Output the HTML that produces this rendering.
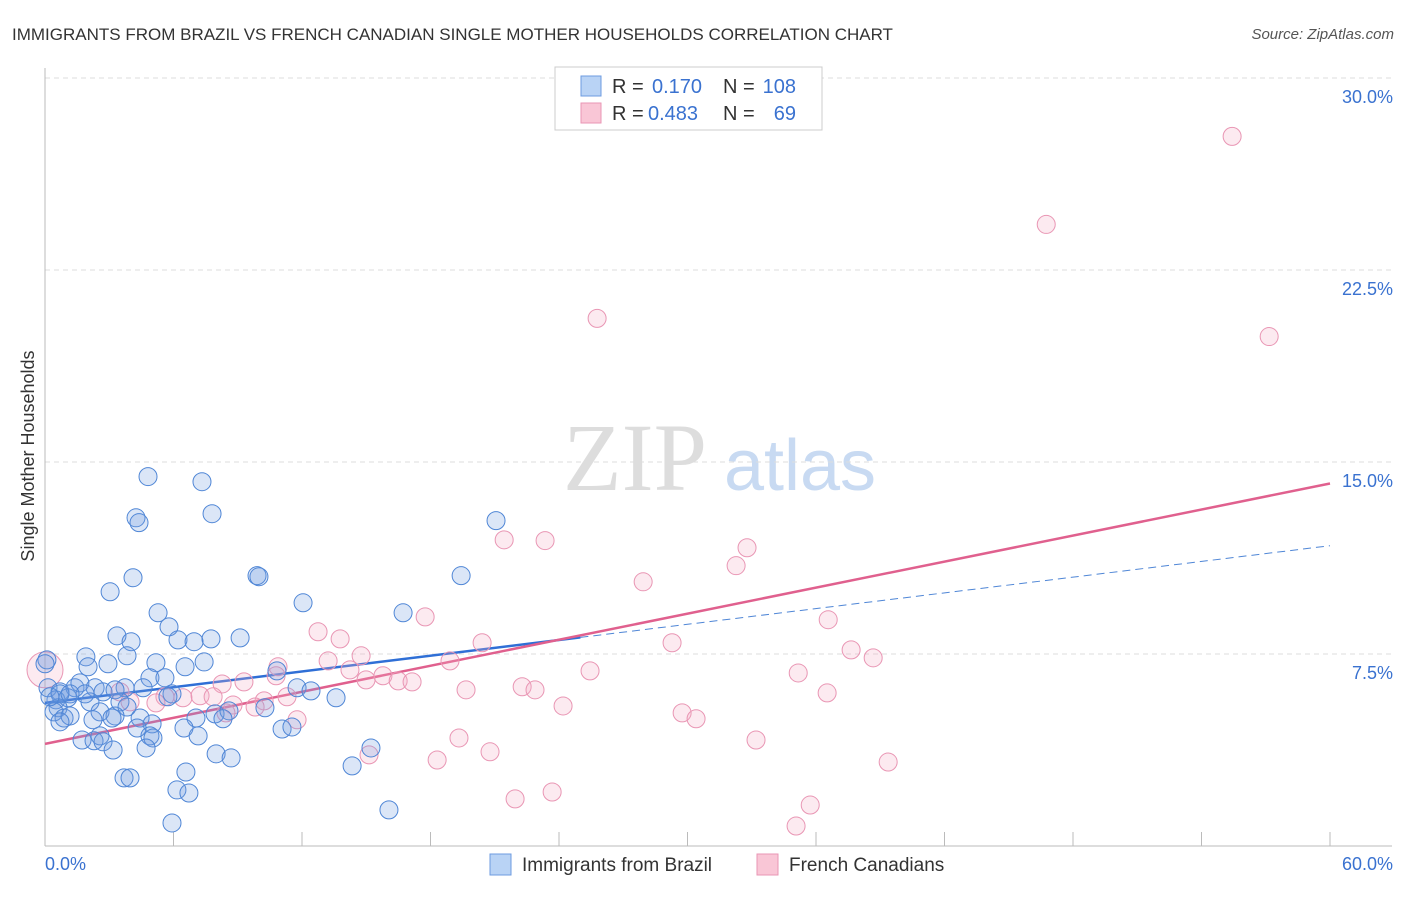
<!DOCTYPE html>
<html><head><meta charset="utf-8">
<style>
body{margin:0;background:#fff;font-family:"Liberation Sans",sans-serif;}
svg text{font-family:"Liberation Sans",sans-serif;}
</style></head>
<body>
<svg id="chart" width="1406" height="892">
<text x="12" y="40" font-size="17" fill="#333">IMMIGRANTS FROM BRAZIL VS FRENCH CANADIAN SINGLE MOTHER HOUSEHOLDS CORRELATION CHART</text>
<text x="1394" y="39" font-size="15" fill="#555" text-anchor="end" font-style="italic">Source: ZipAtlas.com</text>
<text x="635" y="490" font-size="96" fill="#ddd" text-anchor="middle" style="font-family:'Liberation Serif',serif">ZIP</text>
<text x="800" y="490" font-size="72" fill="#c8daf2" text-anchor="middle">atlas</text>
<text transform="translate(34,456) rotate(-90)" font-size="18" fill="#333" text-anchor="middle">Single Mother Households</text>
<g id="grid"></g><g id="axes"></g><g id="trend"></g><g id="pts"></g>
<g>
<rect x="555" y="67" width="267" height="63" fill="#fff" stroke="#ccc"/>
<rect x="581" y="76" width="20" height="20" fill="#b9d3f5" stroke="#6d9be0"/>
<rect x="581" y="103" width="20" height="20" fill="#f9c6d6" stroke="#e996b4"/>
<text x="612" y="93" font-size="20" fill="#333">R =</text>
<text x="652" y="93" font-size="20" fill="#3a72d0">0.170</text>
<text x="723" y="93" font-size="20" fill="#333">N =</text>
<text x="796" y="93" font-size="20" fill="#3a72d0" text-anchor="end">108</text>
<text x="612" y="120" font-size="20" fill="#333">R =</text>
<text x="648" y="120" font-size="20" fill="#3a72d0">0.483</text>
<text x="723" y="120" font-size="20" fill="#333">N =</text>
<text x="796" y="120" font-size="20" fill="#3a72d0" text-anchor="end">69</text>
</g>
<g>
<rect x="490" y="854" width="21" height="21" fill="#b9d3f5" stroke="#6d9be0"/>
<text x="522" y="871" font-size="19" fill="#333">Immigrants from Brazil</text>
<rect x="757" y="854" width="21" height="21" fill="#f9c6d6" stroke="#e996b4"/>
<text x="789" y="871" font-size="19" fill="#333">French Canadians</text>
</g>
</svg>
<script>
const blueX=[4.81,7.33,4.25,4.39,7.80,4.11,3.04,9.90,9.99,19.43,21.06,16.72,12.05,5.28,5.79,3.36,4.02,6.21,6.96,7.75,9.11,1.91,3.83,5.18,7.43,6.54,2.01,2.94,0.09,0,4.90,5.60,10.83,11.77,12.42,13.59,0.14,0.70,1.40,1.63,2.34,2.71,3.74,4.58,5.93,5.74,0.51,1.07,2.10,3.50,0.61,0.42,3.83,7.94,8.59,10.27,2.57,3.27,4.44,0.89,1.17,2.24,3.13,7.05,8.31,0.70,5.00,4.30,6.49,11.07,11.53,2.57,1.73,2.29,2.71,4.90,5.04,7.15,3.18,4.72,7.99,8.69,15.22,3.69,3.97,6.58,14.34,6.16,6.72,16.06,5.93,0.70,1.87,1.17,3.27,0.23];
const blueY=[14.43,14.23,12.82,12.63,12.98,10.48,9.93,10.56,10.52,10.56,12.71,9.11,9.50,9.11,8.56,8.21,7.98,8.05,7.98,8.09,8.13,7.39,7.43,7.16,7.19,7.00,7.00,7.12,7.27,7.12,6.57,6.57,6.84,6.18,6.06,5.79,6.18,6.02,6.18,6.37,6.18,6.02,6.18,6.18,5.94,5.83,5.71,5.79,5.63,5.63,5.40,5.24,5.43,5.16,5.28,5.40,5.24,5.08,5.00,5.00,5.08,4.93,5.00,5.00,4.97,4.85,4.77,4.61,4.61,4.57,4.65,4.30,4.14,4.11,4.07,4.30,4.22,4.30,3.75,3.83,3.60,3.44,3.83,2.66,2.66,2.89,3.13,2.19,2.07,1.41,0.90,5.94,5.94,5.94,6.10,5.83];
const pinkX=[55.43,46.75,57.16,25.78,21.44,23.35,32.78,32.27,27.93,17.75,36.57,12.75,13.78,20.41,29.28,37.64,38.67,14.76,13.22,10.88,14.24,18.91,25.45,35.17,15.78,14.99,16.49,17.14,10.79,9.29,8.27,22.28,22.88,19.66,36.52,3.50,5.60,6.44,7.24,7.85,11.30,10.23,5.18,3.97,24.19,29.75,30.40,9.81,8.78,11.77,8.45,19.33,20.78,33.20,18.31,15.13,39.37,21.95,23.68,35.73,35.07];
const pinkY=[27.72,24.28,19.90,20.61,11.96,11.93,11.65,10.95,10.32,8.95,8.84,8.37,8.09,7.94,7.94,7.66,7.35,7.43,7.23,7.00,6.88,7.23,6.84,6.76,6.65,6.49,6.45,6.41,6.65,6.41,6.33,6.22,6.10,6.10,5.98,6.02,5.83,5.79,5.87,5.83,5.83,5.67,5.59,5.63,5.47,5.20,4.97,5.43,5.51,4.93,5.20,4.22,3.68,4.14,3.36,3.56,3.28,1.84,2.11,1.60,0.78];
const yTicks=[7.5,15,22.5,30];
const yTickLabels=["7.5%","15.0%","22.5%","30.0%"];
const blueTrend=[5.59,11.73]; const blueSolidEnd=25;
const pinkTrend=[3.99,14.16];
const NS="http://www.w3.org/2000/svg";
const X=v=>45+v/60*1285, Y=v=>846-v/7.5*192;
function mk(tag,attrs,parent){const e=document.createElementNS(NS,tag);for(const k in attrs)e.setAttribute(k,attrs[k]);document.getElementById(parent).appendChild(e);return e;}
yTicks.forEach((t,i)=>{
 const l=mk('line',{x1:45,x2:1392,y1:Y(t),y2:Y(t),stroke:'#ddd','stroke-dasharray':'5,4'},'grid');
 
 
 const tx=mk('text',{x:1393,y:Y(t)+25,'font-size':18,fill:'#3a72d0','text-anchor':'end'},'grid');tx.textContent=yTickLabels[i];
 
 
});
mk('line',{x1:45,x2:45,y1:68,y2:846,stroke:'#bbb'},'axes');
mk('line',{x1:45,x2:1392,y1:846,y2:846,stroke:'#bbb'},'axes');
for(let i=0;i<=10;i++){const t=mk('line',{x1:X(i*6),x2:X(i*6),y1:832,y2:846,stroke:'#bbb'},'axes');
 
 }
let a=mk('text',{x:45,y:870,'font-size':18,fill:'#3a72d0'},'axes');a.textContent='0.0%';

a=mk('text',{x:1393,y:870,'font-size':18,fill:'#3a72d0','text-anchor':'end'},'axes');a.textContent='60.0%';

function pt(x,y,f,s,r){const c=mk('circle',{cx:X(x),cy:Y(y),r:r,fill:f,stroke:s,'stroke-width':1},'pts');return c;}
const big=pt(0,6.88,'rgba(243,170,196,0.25)','#e996b4',18);


pinkX.forEach((x,i)=>{const c=pt(x,pinkY[i],'rgba(243,170,196,0.25)','#e996b4',9);
 
 });
blueX.forEach((x,i)=>{const c=pt(x,blueY[i],'rgba(110,155,225,0.25)','#4f86d6',9);
 
 });
const by=x=>blueTrend[0]+(blueTrend[1]-blueTrend[0])*x/60;
let l=mk('line',{x1:X(0),y1:Y(by(0)),x2:X(blueSolidEnd),y2:Y(by(blueSolidEnd)),stroke:'#2f6fd6','stroke-width':2.5},'trend');


l=mk('line',{x1:X(blueSolidEnd),y1:Y(by(blueSolidEnd)),x2:X(60),y2:Y(by(60)),stroke:'#4f86d6','stroke-width':1,'stroke-dasharray':'8,5'},'trend');


l=mk('line',{x1:X(0),y1:Y(pinkTrend[0]),x2:X(60),y2:Y(pinkTrend[1]),stroke:'#e0608e','stroke-width':2.5},'trend');


</script>
</body></html>
